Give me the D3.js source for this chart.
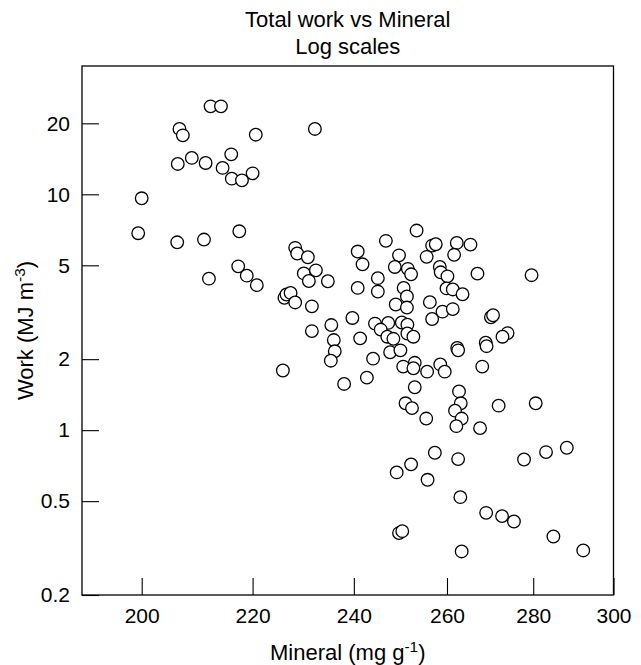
<!DOCTYPE html>
<html>
<head>
<meta charset="utf-8">
<script src="https://cdn.jsdelivr.net/npm/d3@7"></script>
<style>
  html, body { margin: 0; padding: 0; background: #fff; }
  svg { display: block; font-family: "Liberation Sans", Arial, Helvetica, sans-serif; }
</style>
</head>
<body>
<svg id="chart" width="641" height="665"></svg>
<script>
// ---- data ----
const mineral = [
  212.2, 214.1, 206.6, 207.2, 220.6, 208.8, 206.3, 211.3, 216.0, 214.4,
  216.1, 218.0, 220.0, 200.0, 199.4, 206.2, 211.0, 217.5, 211.9, 217.3,
  218.9, 220.8, 232.1, 253.3, 246.7, 256.7, 257.5, 262.2, 265.3, 261.6,
  255.5, 228.2, 228.6, 230.7, 240.8, 241.8, 249.5, 248.6, 251.4, 252.1,
  258.4, 258.6, 260.1, 266.9, 279.6, 229.9, 232.3, 230.9, 234.7, 245.0,
  245.0, 240.8, 250.5, 251.2, 248.8, 251.2, 259.9, 261.3, 263.5, 256.2,
  259.0, 261.3, 256.7, 226.1, 226.5, 227.3, 228.2, 231.5, 239.7, 270.0,
  270.5, 273.9, 272.7, 235.4, 231.5, 244.4, 247.2, 250.1, 251.3, 251.3,
  252.6, 225.8, 235.9, 236.1, 235.3, 241.3, 244.0, 242.7, 238.0, 245.6,
  247.0, 248.3, 247.6, 249.8, 250.4, 252.9, 252.6, 255.6, 258.5, 259.5,
  262.3, 262.5, 268.8, 269.0, 268.0, 252.9, 250.9, 252.3, 255.4, 262.7,
  263.1, 261.8, 263.3, 262.1, 267.5, 271.8, 280.6, 257.3, 262.5, 252.1,
  249.0, 255.7, 263.0, 268.9, 272.6, 275.4, 249.5, 250.2, 263.3, 277.8,
  283.1, 288.2, 284.9, 292.3
];
const work = [
  23.6, 23.6, 18.93, 17.78, 17.9, 14.27, 13.45, 13.58, 14.77, 12.94,
  11.65, 11.46, 12.27, 9.62, 6.84, 6.26, 6.43, 6.97, 4.39, 4.95,
  4.52, 4.12, 18.93, 7.02, 6.35, 6.06, 6.14, 6.22, 6.12, 5.54,
  5.43, 5.93, 5.61, 5.41, 5.72, 5.05, 5.51, 4.92, 4.83, 4.58,
  4.92, 4.67, 4.49, 4.61, 4.54, 4.62, 4.76, 4.29, 4.28, 4.41,
  3.87, 4.01, 4.01, 3.69, 3.41, 3.31, 3.99, 3.95, 3.77, 3.49,
  3.18, 3.26, 2.96, 3.64, 3.76, 3.82, 3.48, 3.35, 2.99, 3.01,
  3.07, 2.58, 2.49, 2.79, 2.63, 2.83, 2.85, 2.86, 2.80, 2.57,
  2.49, 1.79, 2.41, 2.16, 1.97, 2.45, 2.01, 1.67, 1.57, 2.67,
  2.49, 2.44, 2.14, 2.18, 1.86, 1.93, 1.83, 1.77, 1.90, 1.77,
  2.23, 2.18, 2.35, 2.27, 1.86, 1.52, 1.30, 1.24, 1.12, 1.46,
  1.30, 1.21, 1.12, 1.04, 1.02, 1.27, 1.30, 0.802, 0.754, 0.716,
  0.662, 0.616, 0.520, 0.446, 0.432, 0.410, 0.366, 0.373, 0.306, 0.751,
  0.807, 0.842, 0.354, 0.309
];
const xTicks = [200, 220, 240, 260, 280, 300];
const yTicks = [0.2, 0.5, 1, 2, 5, 10, 20];
const xDomain = [190, 300];
const yDomain = [0.2, 35];
const titleLines = ["Total work vs Mineral", "Log scales"];

// ---- layout ----
const svg = d3.select("#chart");
const L = 82, R = 613.5, T = 66, B = 595;
const FS = 21;   // tick labels
const FL = 22;   // titles

const x = d3.scaleLog().domain(xDomain).range([L, R]);
const y = d3.scaleLog().domain(yDomain).range([B, T]);

// points
const pts = mineral.map((m, i) => ({ m, w: work[i] }));
svg.append("g").selectAll("circle").data(pts).join("circle")
  .attr("cx", d => x(d.m))
  .attr("cy", d => y(d.w))
  .attr("r", 6.3)
  .attr("fill", "#fff")
  .attr("stroke", "#000")
  .attr("stroke-width", 1.3);

// axes with inward ticks
const xAxis = d3.axisBottom(x).tickValues(xTicks).tickFormat(d3.format("d"))
  .tickSizeInner(-17).tickSizeOuter(0).tickPadding(13);
const gx = svg.append("g").attr("transform", `translate(0,${B})`).call(xAxis);
gx.select(".domain").remove();
gx.selectAll(".tick line").attr("stroke", "#000").attr("stroke-width", 1.1);
gx.selectAll(".tick text").attr("font-size", FS).attr("fill", "#000")
  .attr("font-family", "Liberation Sans, Arial, sans-serif");

const yAxis = d3.axisLeft(y).tickValues(yTicks).tickFormat(d => String(d))
  .tickSizeInner(-17).tickSizeOuter(0).tickPadding(12);
const gy = svg.append("g").attr("transform", `translate(${L},0)`).call(yAxis);
gy.select(".domain").remove();
gy.selectAll(".tick line").attr("stroke", "#000").attr("stroke-width", 1.1);
gy.selectAll(".tick text").attr("font-size", FS).attr("fill", "#000")
  .attr("font-family", "Liberation Sans, Arial, sans-serif");

// frame
svg.append("rect")
  .attr("x", L).attr("y", T).attr("width", R - L).attr("height", B - T)
  .attr("fill", "none").attr("stroke", "#000").attr("stroke-width", 1.3);

// title
const cx = (L + R) / 2;
titleLines.forEach((t, i) => {
  svg.append("text").attr("x", cx).attr("y", 27 + i * 26.5)
    .attr("text-anchor", "middle").attr("font-size", FL).attr("fill", "#000").text(t);
});

// x label
const xl = svg.append("text").attr("x", cx).attr("y", 660)
  .attr("text-anchor", "middle").attr("font-size", FL).attr("fill", "#000");
xl.append("tspan").text("Mineral (mg g");
xl.append("tspan").attr("font-size", FL * 0.7).attr("dy", -8).text("-1");
xl.append("tspan").attr("dy", 8).text(")");

// y label
const yl = svg.append("text")
  .attr("transform", `translate(33,${(T + B) / 2}) rotate(-90)`)
  .attr("text-anchor", "middle").attr("font-size", FL).attr("fill", "#000");
yl.append("tspan").text("Work (MJ m");
yl.append("tspan").attr("font-size", FL * 0.7).attr("dy", -8).text("-3");
yl.append("tspan").attr("dy", 8).text(")");
</script>
</body>
</html>
